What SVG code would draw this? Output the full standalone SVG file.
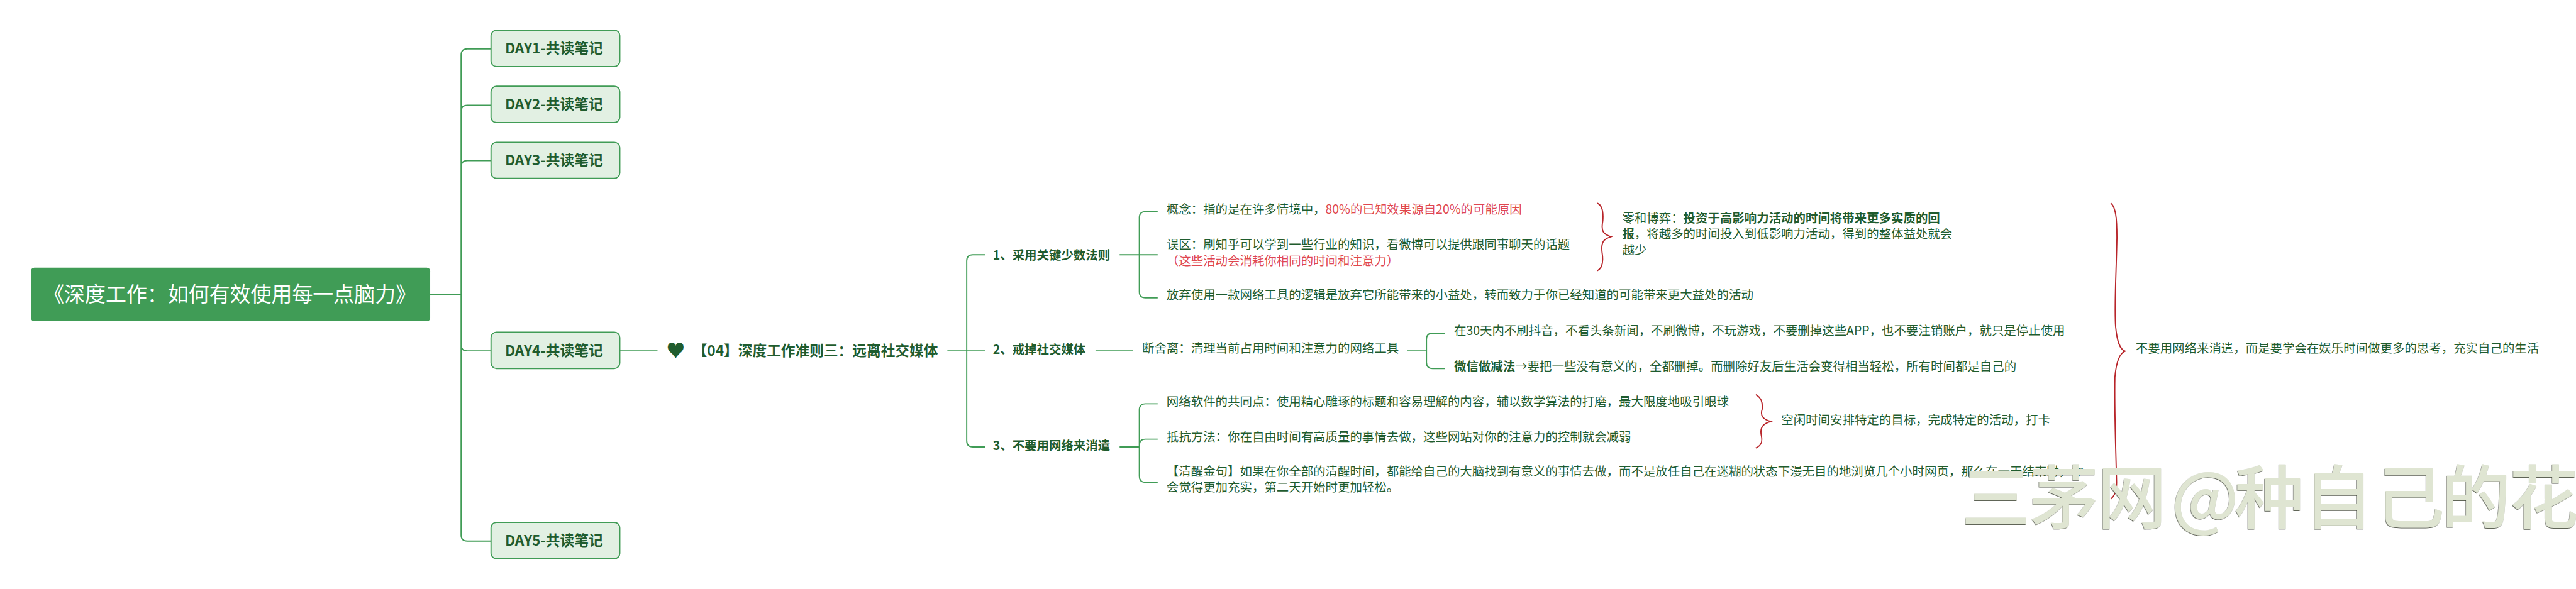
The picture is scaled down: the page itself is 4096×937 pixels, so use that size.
<svg xmlns="http://www.w3.org/2000/svg" width="4096" height="937" viewBox="0 0 4096 937">
<style>
text{font-family:"Noto Sans CJK SC","Microsoft YaHei","Liberation Sans",sans-serif;fill:#1f5c2e;font-size:36px}
.b{font-weight:700}
.t{font-size:42px;font-weight:700}
.s{font-size:36px;font-weight:700}
.r{fill:#e0474f}
.day{fill:#e2f0e3;stroke:#409c56;stroke-width:3.5}
.c{fill:none;stroke:#409c56;stroke-width:3.5}
.br{fill:none;stroke:#b8252a;stroke-width:3.5}
.wm{font-size:204px;font-weight:500;fill:#dfe5d2;filter:url(#sh)}
</style>
<defs><filter id="sh" x="-5%" y="-5%" width="110%" height="110%"><feDropShadow dx="-1" dy="1.5" stdDeviation="0" flood-color="#3a3f30"/></filter></defs>
<rect width="4096" height="937" fill="#fff"/>
<g transform="scale(0.5403)">
<g id="connectors">
<path class="c" d="M1266 868H1357M1445 144H1375Q1357 144 1357 162V1575Q1357 1593 1375 1593H1445M1445 310H1375Q1357 310 1357 328M1445 473H1375Q1357 473 1357 491M1357 1015Q1357 1033 1375 1033H1445"/>
<path class="c" d="M1824 1033H1935M2788 1033H2900M2900 1316H2863Q2845 1316 2845 1298V768Q2845 750 2863 750H2900"/>
<path class="c" d="M3295 750H3407M3407 623H3371Q3353 623 3353 641V859Q3353 877 3371 877H3407"/>
<path class="c" d="M3224 1033H3335M4142 1033H4198M4253 981H4216Q4198 981 4198 999V1067Q4198 1085 4216 1085H4253"/>
<path class="c" d="M3295 1316H3353M3407 1189H3371Q3353 1189 3353 1207V1402Q3353 1420 3371 1420H3407M3407 1293H3371Q3353 1293 3353 1311"/>
<path class="br" d="M4700 598C4716 604 4719 625 4717 650C4711 680 4718 690 4741 697C4718 704 4711 714 4715 745C4719 770 4716 790 4700 797"/>
<path class="br" d="M5167 1162C5184 1170 5188 1185 5186 1205C5179 1225 5190 1235 5211 1241C5190 1247 5179 1257 5183 1280C5188 1300 5184 1312 5167 1319"/>
<path class="br" d="M6212 598C6226 610 6230 640 6230 700C6228 800 6222 900 6226 960C6230 1005 6238 1028 6254 1034C6238 1040 6228 1065 6224 1110C6222 1200 6226 1300 6229 1420C6229 1445 6224 1460 6212 1469"/>
</g>
<g id="root"><rect x="91" y="788" width="1175" height="158" rx="10" fill="#409c56"/><text x="128" y="889" style="font-size:61px;fill:#fff">《深度工作：如何有效使用每一点脑力》</text></g>
<g id="day1"><rect class="day" x="1445" y="89" width="379" height="107" rx="16"/><text class="t" x="1486" y="157">DAY1-共读笔记</text></g>
<g id="day2"><rect class="day" x="1445" y="254" width="379" height="107" rx="16"/><text class="t" x="1486" y="322">DAY2-共读笔记</text></g>
<g id="day3"><rect class="day" x="1445" y="419" width="379" height="106" rx="16"/><text class="t" x="1486" y="487">DAY3-共读笔记</text></g>
<g id="day4"><rect class="day" x="1445" y="978" width="379" height="107" rx="16"/><text class="t" x="1486" y="1047">DAY4-共读笔记</text></g>
<g id="day5"><rect class="day" x="1445" y="1538" width="379" height="107" rx="16"/><text class="t" x="1486" y="1606">DAY5-共读笔记</text></g>
<g id="topic"><text class="t" x="1961" y="1052"><tspan style="font-size:55px">♥</tspan><tspan x="2039" y="1048">【04】深度工作准则三：远离社交媒体</tspan></text></g>
<g id="rule1"><text class="s" x="2922" y="764">1、采用关键少数法则</text></g>
<g id="rule2"><text class="s" x="2922" y="1042">2、戒掉社交媒体</text></g>
<g id="rule3"><text class="s" x="2922" y="1325">3、不要用网络来消遣</text></g>
<g id="r1a"><text x="3433" y="630">概念：指的是在许多情境中，<tspan class="r">80%的已知效果源自20%的可能原因</tspan></text></g>
<g id="r1b"><text x="3433" y="733">误区：刷知乎可以学到一些行业的知识，看微博可以提供跟同事聊天的话题</text><text class="r" x="3433" y="781">（这些活动会消耗你相同的时间和注意力）</text></g>
<g id="r1c"><text x="3433" y="881">放弃使用一款网络工具的逻辑是放弃它所能带来的小益处，转而致力于你已经知道的可能带来更大益处的活动</text></g>
<g id="zero"><text x="4774" y="655">零和博弈：<tspan class="b">投资于高影响力活动的时间将带来更多实质的回</tspan></text><text x="4774" y="702"><tspan class="b">报</tspan>，将越多的时间投入到低影响力活动，得到的整体益处就会</text><text x="4774" y="750">越少</text></g>
<g id="r2a"><text x="3361" y="1039">断舍离：清理当前占用时间和注意力的网络工具</text></g>
<g id="r2b"><text x="4279" y="987">在30天内不刷抖音，不看头条新闻，不刷微博，不玩游戏，不要删掉这些APP，也不要注销账户，就只是停止使用</text></g>
<g id="r2c"><text x="4279" y="1092"><tspan class="b">微信做减法</tspan>→要把一些没有意义的，全都删掉。而删除好友后生活会变得相当轻松，所有时间都是自己的</text></g>
<g id="r3a"><text x="3433" y="1195">网络软件的共同点：使用精心雕琢的标题和容易理解的内容，辅以数学算法的打磨，最大限度地吸引眼球</text></g>
<g id="r3b"><text x="3433" y="1299">抵抗方法：你在自由时间有高质量的事情去做，这些网站对你的注意力的控制就会减弱</text></g>
<g id="r3c"><text x="3433" y="1401">【清醒金句】如果在你全部的清醒时间，都能给自己的大脑找到有意义的事情去做，而不是放任自己在迷糊的状态下漫无目的地浏览几个小时网页，那么在一天结束时，你</text><text x="3433" y="1448">会觉得更加充实，第二天开始时更加轻松。</text></g>
<g id="free"><text x="5242" y="1249">空闲时间安排特定的目标，完成特定的活动，打卡</text></g>
<g id="summary"><text x="6285" y="1039">不要用网络来消遣，而是要学会在娱乐时间做更多的思考，充实自己的生活</text></g>
<text class="wm" x="5772 5972 6172 6390 6576 6780 6990 7185 7385" y="1540">三茅网@种自己的花</text>
</g>
</svg>
